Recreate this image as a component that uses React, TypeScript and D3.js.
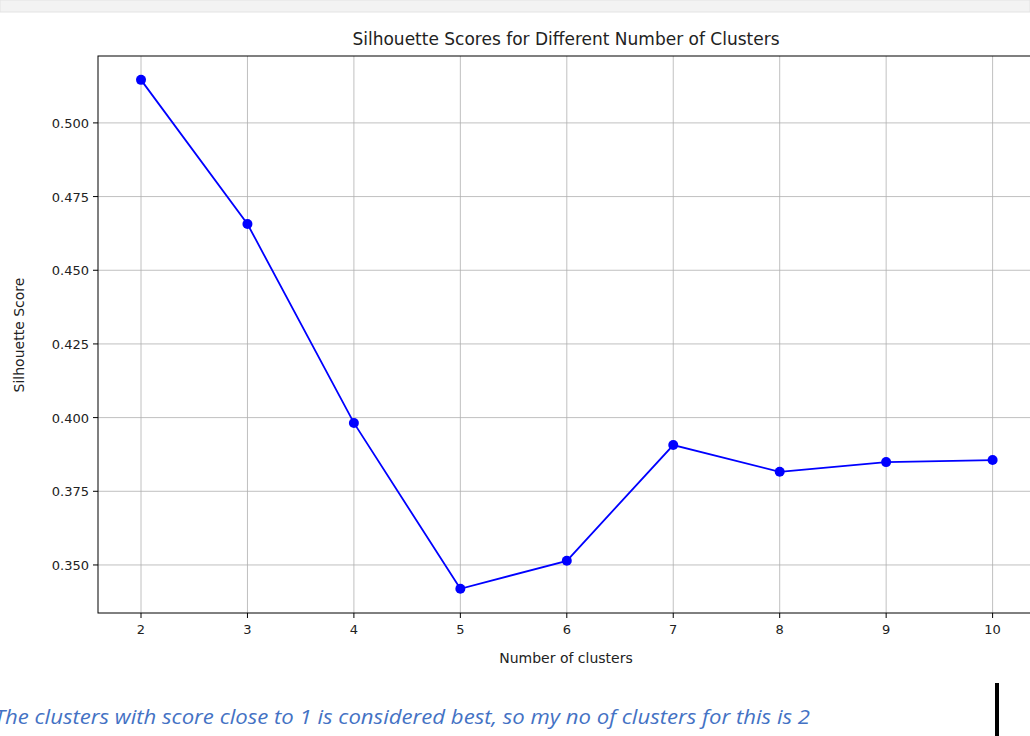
import React from "react";
import * as d3 from "d3";

const clusters = [2, 3, 4, 5, 6, 7, 8, 9, 10];
const scores = [0.5146, 0.4657, 0.3982, 0.3419, 0.3514, 0.3907, 0.3816, 0.3849, 0.3856];
const yTicks = [0.35, 0.375, 0.4, 0.425, 0.45, 0.475, 0.5];

export default function App() {
  const L = 98, R = 1035.6, T = 56, B = 613;
  const x = d3.scaleLinear().domain([1.596, 10.404]).range([L, R]);
  const y = d3.scaleLinear().domain([0.3337, 0.5227]).range([B, T]);
  const line = d3.line<number>().x((_, i) => x(clusters[i])).y((d) => y(d));
  const font = "DejaVu Sans, sans-serif";
  return (
    <svg width={1030} height={736} style={{ position: "absolute", left: 0, top: 0, background: "#fff" }}>
      <rect x={0} y={0} width={1030} height={12} fill="#f3f3f3" stroke="#e3e3e3" />
      {clusters.map((c) => (
        <g key={c}>
          <line x1={x(c)} x2={x(c)} y1={T} y2={B} stroke="#b0b0b0" strokeWidth={0.8} />
          <line x1={x(c)} x2={x(c)} y1={B} y2={B + 5} stroke="#000" />
          <text x={x(c)} y={B + 21} fontSize={13} fontFamily={font} textAnchor="middle" fill="#222">{c}</text>
        </g>
      ))}
      {yTicks.map((t) => (
        <g key={t}>
          <line x1={L} x2={R} y1={y(t)} y2={y(t)} stroke="#b0b0b0" strokeWidth={0.8} />
          <line x1={L - 5} x2={L} y1={y(t)} y2={y(t)} stroke="#000" />
          <text x={L - 9} y={y(t) + 5} fontSize={13} fontFamily={font} textAnchor="end" fill="#222">{t.toFixed(3)}</text>
        </g>
      ))}
      <rect x={L} y={T} width={R - L} height={B - T} fill="none" stroke="#000" strokeWidth={1} />
      <path d={line(scores) || ""} fill="none" stroke="#0000ff" strokeWidth={1.8} />
      {scores.map((s, i) => (
        <circle key={i} cx={x(clusters[i])} cy={y(s)} r={5} fill="#0000ff" />
      ))}
      <text x={566} y={45} fontSize={17} fontFamily={font} textAnchor="middle" fill="#222">Silhouette Scores for Different Number of Clusters</text>
      <text x={566} y={663} fontSize={14} fontFamily={font} textAnchor="middle" fill="#222">Number of clusters</text>
      <text transform={`translate(24,335) rotate(-90)`} fontSize={14} fontFamily={font} textAnchor="middle" fill="#222">Silhouette Score</text>
      <text x={-6} y={724} fontSize={20} fontStyle="italic" fontFamily="Open Sans, sans-serif" fill="#4472c4" textLength={816} lengthAdjust="spacingAndGlyphs">The clusters with score close to 1 is considered best, so my no of clusters for this is 2</text>
      <rect x={995} y={683} width={4} height={53} fill="#000" />
    </svg>
  );
}
